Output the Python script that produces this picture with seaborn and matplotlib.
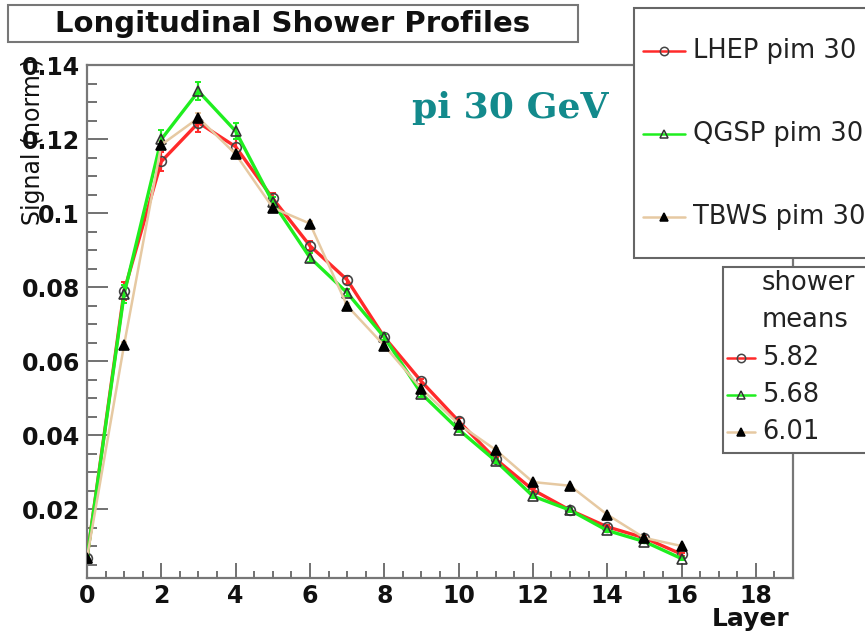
import numpy as np
import pandas as pd
import matplotlib
matplotlib.use("Agg")
import matplotlib.pyplot as plt
from matplotlib.patches import Rectangle
from matplotlib.lines import Line2D
from matplotlib.ticker import MultipleLocator
import seaborn as sns

# ---- data ----
layers = list(range(17))
lhep = [0.0068, 0.0790, 0.1140, 0.1245, 0.1180, 0.1040, 0.0912, 0.0820, 0.0665,
        0.0545, 0.0438, 0.0335, 0.0252, 0.0197, 0.0152, 0.0122, 0.0078]
qgsp = [0.0068, 0.0782, 0.1200, 0.1330, 0.1222, 0.1030, 0.0880, 0.0785, 0.0665,
        0.0512, 0.0415, 0.0330, 0.0235, 0.0197, 0.0142, 0.0112, 0.0066]
tbws = [0.0068, 0.0645, 0.1185, 0.1258, 0.1160, 0.1015, 0.0972, 0.0750, 0.0642,
        0.0525, 0.0430, 0.0360, 0.0273, 0.0263, 0.0185, 0.0122, 0.0100]
err_lhep = [0.0004, 0.0025, 0.0025, 0.0025, 0.0022, 0.0015, 0.0012, 0.0010, 0.0009,
            0.0008, 0.0007, 0.0006, 0.0005, 0.0005, 0.0004, 0.0004, 0.0004]
err_qgsp = [0.0004, 0.0025, 0.0025, 0.0025, 0.0022, 0.0015, 0.0012, 0.0010, 0.0009,
            0.0008, 0.0007, 0.0006, 0.0005, 0.0005, 0.0004, 0.0004, 0.0004]
err_tbws = [0.0003, 0.0008, 0.0010, 0.0012, 0.0010, 0.0008, 0.0007, 0.0006, 0.0005,
            0.0005, 0.0004, 0.0004, 0.0004, 0.0003, 0.0003, 0.0003, 0.0003]
series_names = ["LHEP pim 30", "QGSP pim 30", "TBWS pim 30"]
shower_means = ["5.82", "5.68", "6.01"]
x_ticks = [0, 2, 4, 6, 8, 10, 12, 14, 16, 18]
y_ticks = [0.02, 0.04, 0.06, 0.08, 0.10, 0.12, 0.14]
y_tick_labels = ["0.02", "0.04", "0.06", "0.08", "0.1", "0.12", "0.14"]

sns.set_theme(style="white")
plt.rcParams["font.family"] = ["DejaVu Sans"]

W, H = 865, 634
fig = plt.figure(figsize=(W / 100, H / 100), dpi=100)
ax = fig.add_axes([87 / W, 1 - 578 / H, (793 - 87) / W, (578 - 65) / H])

colors = ["#ff2a2a", "#1fee1f", "#e6c9a2"]
mk = ["o", "^", "^"]
mfc = ["none", "none", "black"]
mec = ["#444444", "#333333", "black"]
lws = [2.4, 2.4, 1.8]
data = [lhep, qgsp, tbws]
errs = [err_lhep, err_qgsp, err_tbws]

for i in [2, 0, 1]:
    ax.errorbar(layers, data[i], yerr=errs[i], fmt="none", ecolor=colors[i],
                elinewidth=1.6, capsize=2.5, capthick=1.4, zorder=2 + i)
    sns.lineplot(x=layers, y=data[i], ax=ax, color=colors[i], linewidth=lws[i],
                 marker=mk[i], markersize=7, markerfacecolor=mfc[i],
                 markeredgecolor=mec[i], markeredgewidth=1.2, zorder=3 + i,
                 legend=False)

ax.set_xlim(0, 19)
ax.set_ylim(0.00135, 0.1401)
ax.set_xticks(x_ticks)
ax.set_xticklabels([str(v) for v in x_ticks])
ax.set_yticks(y_ticks)
ax.set_yticklabels(y_tick_labels)
ax.xaxis.set_minor_locator(MultipleLocator(0.5))
ax.yaxis.set_minor_locator(MultipleLocator(0.005))
ax.tick_params(axis="both", which="both", direction="in", colors="#666666",
               labelcolor="#111111", bottom=True, left=True, top=False, right=False)
ax.tick_params(axis="y", which="major", length=15, width=1.3, pad=5)
ax.tick_params(axis="y", which="minor", length=7, width=1.3)
ax.tick_params(axis="x", which="major", length=11, width=1.3, pad=4)
ax.tick_params(axis="x", which="minor", length=5, width=1.3)
for lab in ax.get_xticklabels() + ax.get_yticklabels():
    lab.set_fontweight("bold")
    lab.set_fontsize(17)
for s in ax.spines.values():
    s.set_color("#777777")
    s.set_linewidth(1.6)
ax.set_xlabel("")
ax.set_ylabel("")

# axis titles (ROOT style)
fig.text(790 / W, 1 - 619 / H, "Layer", ha="right", va="center",
         fontsize=18, fontweight="bold", color="#111111")
fig.text(33 / W, 1 - 58 / H, "Signal (norm.)", rotation=90, ha="center", va="top",
         fontsize=17, color="#111111")

# title box
fig.add_artist(Rectangle((8 / W, 1 - 42 / H), (578 - 8) / W, 37 / H,
                         transform=fig.transFigure, facecolor="white",
                         edgecolor="#777777", linewidth=1.5, zorder=5))
fig.text(293 / W, 1 - 24 / H, "Longitudinal Shower Profiles", ha="center",
         va="center", fontsize=21, fontweight="bold", color="#111111", zorder=6)

# legend 1
fig.add_artist(Rectangle((634 / W, 1 - 258 / H), 300 / W, 250 / H,
                         transform=fig.transFigure, facecolor="white",
                         edgecolor="#666666", linewidth=1.5, zorder=5))
leg1_y = [51, 134, 217]
for i in range(3):
    yy = 1 - leg1_y[i] / H
    fig.add_artist(Line2D([643 / W, 685 / W], [yy, yy], transform=fig.transFigure,
                          color=colors[i], linewidth=1.8, zorder=6))
    fig.add_artist(Line2D([664 / W], [yy], transform=fig.transFigure, marker=mk[i],
                          markersize=6, markerfacecolor=mfc[i], markeredgecolor=mec[i],
                          markeredgewidth=1.1, linestyle="none", zorder=7))
    fig.text(693 / W, yy, series_names[i], ha="left", va="center", fontsize=18.5,
             color="#222222", zorder=7)

# legend 2
fig.add_artist(Rectangle((723 / W, 1 - 453 / H), 200 / W, 186 / H,
                         transform=fig.transFigure, facecolor="white",
                         edgecolor="#666666", linewidth=1.5, zorder=5))
fig.text(762 / W, 1 - 283 / H, "shower", ha="left", va="center", fontsize=18.5,
         color="#222222", zorder=7)
fig.text(762 / W, 1 - 320 / H, "means", ha="left", va="center", fontsize=18.5,
         color="#222222", zorder=7)
leg2_y = [358, 395, 432]
for i in range(3):
    yy = 1 - leg2_y[i] / H
    fig.add_artist(Line2D([727 / W, 755 / W], [yy, yy], transform=fig.transFigure,
                          color=colors[i], linewidth=1.8, zorder=6))
    fig.add_artist(Line2D([741 / W], [yy], transform=fig.transFigure, marker=mk[i],
                          markersize=6, markerfacecolor=mfc[i], markeredgecolor=mec[i],
                          markeredgewidth=1.1, linestyle="none", zorder=7))
    fig.text(762 / W, yy, shower_means[i], ha="left", va="center", fontsize=18.5,
             color="#222222", zorder=7)

# annotation
fig.text(412 / W, 1 - 118 / H, "pi 30 GeV", ha="left", va="baseline",
         fontsize=26, fontweight="bold", family=["DejaVu Serif"],
         color="#138a8c", zorder=8)

fig.savefig("out.png", dpi=100)
